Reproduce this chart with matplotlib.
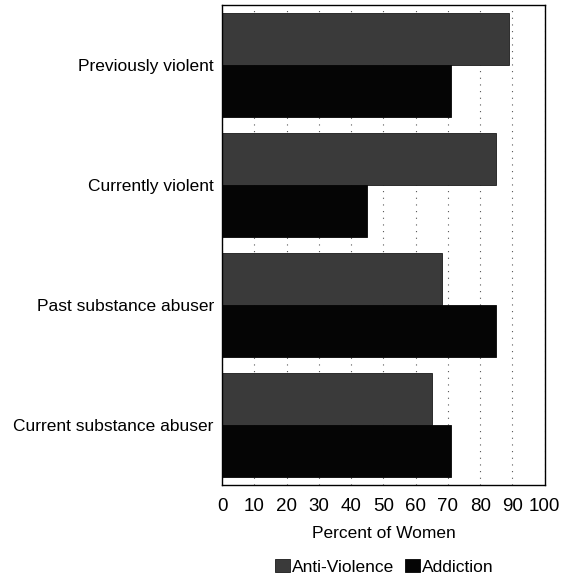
import numpy as np
import matplotlib.pyplot as plt

plt.rcParams['font.family'] = ['Liberation Sans', 'DejaVu Sans']

categories = ["Previously violent", "Currently violent",
              "Past substance abuser", "Current substance abuser"]
anti_violence = [89, 85, 68, 65]
addiction = [71, 45, 85, 71]
ticks = list(range(0, 101, 10))

fig = plt.figure(figsize=(5.61, 5.77), dpi=100)
ax = fig.add_axes([0.396, 0.1594, 0.575, 0.832])

y = np.arange(len(categories))
h = 0.43
ax.barh(y - h / 2, anti_violence, height=h, color="#3a3a3a",
        edgecolor="#1a1a1a", linewidth=0.6, label="Anti-Violence", zorder=2)
ax.barh(y + h / 2, addiction, height=h, color="#050505",
        edgecolor="#050505", linewidth=0.6, label="Addiction", zorder=2)

ax.set_ylim(len(categories) - 0.5, -0.5)
ax.set_xlim(0, 100)
ax.set_xticks(ticks)
ax.set_xticklabels([str(t) for t in ticks], fontsize=13.5)
ax.set_yticks(y)
ax.set_yticklabels(categories, fontsize=12.5)
ax.tick_params(axis="y", length=0, pad=6)
ax.tick_params(axis="x", length=0, pad=9)
ax.xaxis.grid(True, linestyle=(0, (1, 5)), color="#555555", linewidth=0.8, zorder=0)
ax.set_axisbelow(True)
for s in ax.spines.values():
    s.set_linewidth(1.0)
    s.set_color("black")

ax.set_xlabel("Percent of Women", fontsize=12.5, labelpad=8)

fig.legend(loc="center", bbox_to_anchor=(0.685, 0.017), ncol=2,
           frameon=False, fontsize=12.5, handlelength=0.85, handleheight=0.75,
           handletextpad=0.15, columnspacing=0.6, borderaxespad=0.0,
           borderpad=0.0)

fig.savefig("out.png", dpi=100)
